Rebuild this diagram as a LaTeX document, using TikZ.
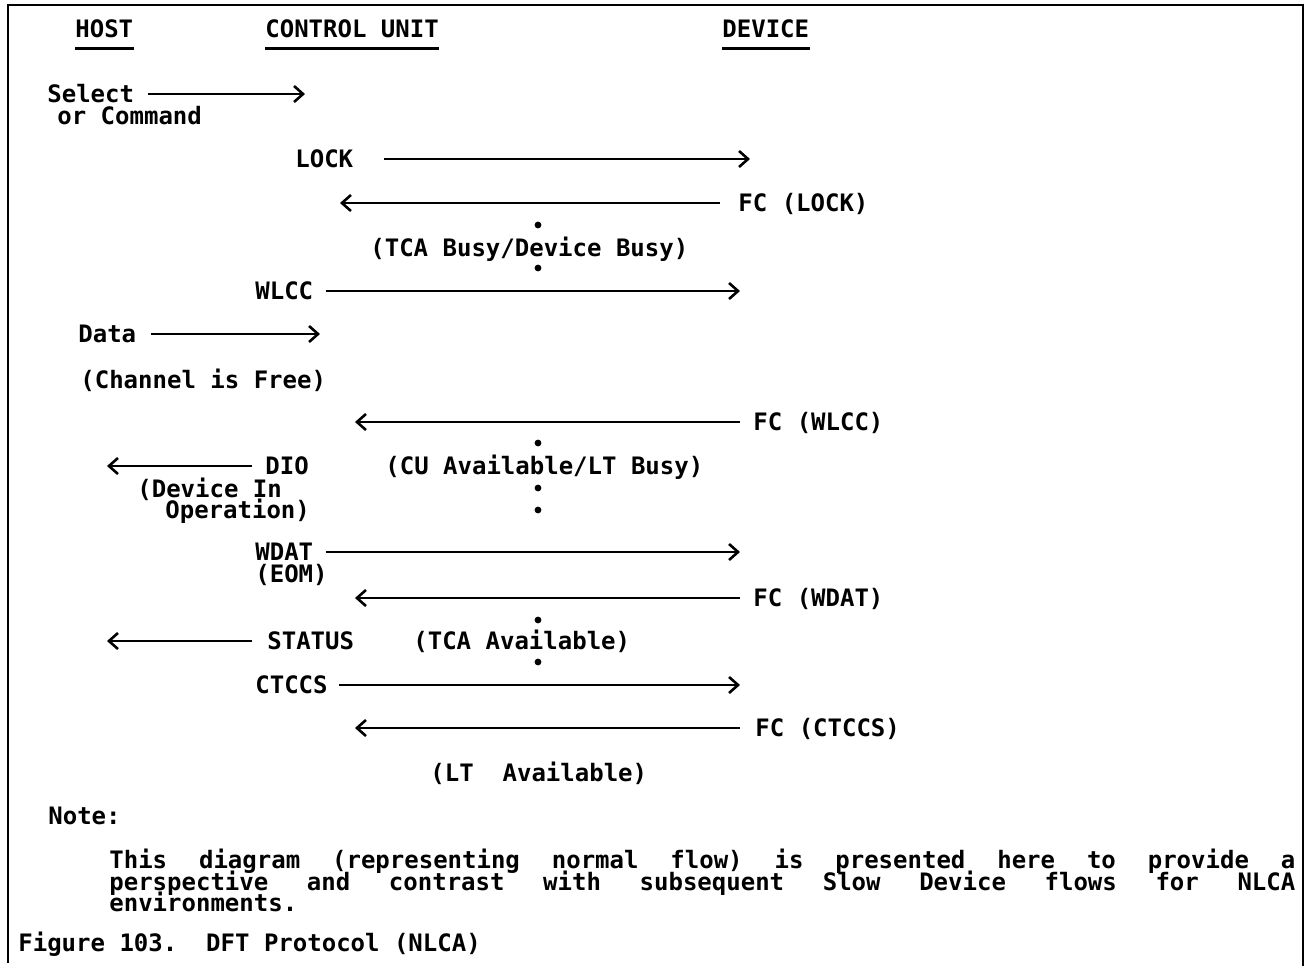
\documentclass[tikz,border=0pt]{standalone}
\usepackage{fontspec}
\setmainfont{DejaVu Sans Mono}
\usetikzlibrary{arrows.meta}
\newcommand\jline[1]{\hbox to 593pt{\spaceskip=7.2pt plus 1fil\relax #1}}

\begin{document}
\begin{tikzpicture}[
  x=0.5pt, y=-0.5pt,
  font=\fontsize{12}{14}\selectfont\bfseries,
  lbl/.style={anchor=west, inner sep=0pt, text height=8.8pt, text depth=0pt},
  msg/.style={line width=1pt, shorten <=7pt,
    -{Straight Barb[length=4.5pt,width=8pt,line width=1.3pt]}},
  uline/.style={line width=1.5pt},
  txt/.style={lbl}]
\useasboundingbox (0,0) rectangle (1307,966);
\draw[line width=1.2pt] (8,963) -- (8,5) -- (1303,5) -- (1303,966);

% column heads
\node[lbl] (host) at (75,29) {HOST};
\node[lbl] (cu) at (265,29) {CONTROL UNIT};
\node[lbl] (dev) at (722,29) {DEVICE};
\foreach \n in {host,cu,dev}
  \draw[uline] ([yshift=-5pt]\n.south west) -- ([yshift=-5pt]\n.south east);

% host to control unit
\node[lbl] (select) at (47,94) {Select};
\node[lbl] (orcmd) at (57,116) {or Command};
\coordinate (selectend) at (305,94);
\draw[msg] (select.east) -- (selectend);

\node[lbl] (lock) at (295,159) {LOCK};
\coordinate (lockend) at (750,159);
\draw[msg, shorten <=15pt] (lock.east) -- (lockend);

\node[lbl] (fclock) at (738,203) {FC (LOCK)};
\coordinate (fclockend) at (340,203);
\draw[msg, shorten <=9pt] (fclock.west) -- (fclockend);

\node[lbl] (tcabusy) at (370,248) {(TCA Busy/Device Busy)};

\node[lbl] (wlcc) at (255,291) {WLCC};
\coordinate (wlccend) at (740,291);
\draw[msg, shorten <=6pt] (wlcc.east) -- (wlccend);

\node[lbl] (data) at (78,334) {Data};
\coordinate (dataend) at (320,334);
\draw[msg] (data.east) -- (dataend);

\node[lbl] (free) at (80,380) {(Channel is Free)};

\node[lbl] (fcwlcc) at (753,422) {FC (WLCC)};
\coordinate (fcwlccend) at (355,422);
\draw[msg, shorten <=6.5pt] (fcwlcc.west) -- (fcwlccend);

\node[lbl] (dio) at (265,466) {DIO};
\coordinate (dioend) at (107,466);
\draw[msg, shorten <=6.5pt] (dio.west) -- (dioend);
\node[lbl] (devin) at (137,489) {(Device In};
\node[lbl] (oper) at (165,510) {Operation)};
\node[lbl] (cuavail) at (385,466) {(CU Available/LT Busy)};

\node[lbl] (wdat) at (255,552) {WDAT};
\node[lbl] (eom) at (255,574) {(EOM)};
\coordinate (wdatend) at (740,552);
\draw[msg, shorten <=6pt] (wdat.east) -- (wdatend);

\node[lbl] (fcwdat) at (753,598) {FC (WDAT)};
\coordinate (fcwdatend) at (355,598);
\draw[msg, shorten <=6.5pt] (fcwdat.west) -- (fcwdatend);

\node[lbl] (status) at (267,641) {STATUS};
\coordinate (statusend) at (107,641);
\draw[msg, shorten <=7.5pt] (status.west) -- (statusend);
\node[lbl] (tcaavail) at (413,641) {(TCA Available)};

\node[lbl] (ctccs) at (255,685) {CTCCS};
\coordinate (ctccsend) at (740,685);
\draw[msg, shorten <=5.5pt] (ctccs.east) -- (ctccsend);

\node[lbl] (fcctccs) at (755,728) {FC (CTCCS)};
\coordinate (fcctccsend) at (355,728);
\draw[msg, shorten <=7.5pt] (fcctccs.west) -- (fcctccsend);

\node[lbl] (ltavail) at (430,773) {(LT\ \ Available)};

% dots on the device line
\foreach \y in {225,268,443,488,510,620,662}
  \fill (538,\y) circle (1.7pt);

% note and caption
\node[lbl] (note) at (48,816) {Note:};
\node[txt] (nl1) at (109,860) {\jline{This diagram (representing normal flow) is presented here to provide a}};
\node[txt] (nl2) at (109,882) {\jline{perspective and contrast with subsequent Slow Device flows for NLCA}};
\node[txt] (nl3) at (109,903) {environments.};
\node[txt] (caption) at (18,943) {Figure 103.\ \ DFT Protocol (NLCA)};
\end{tikzpicture}
\end{document}
